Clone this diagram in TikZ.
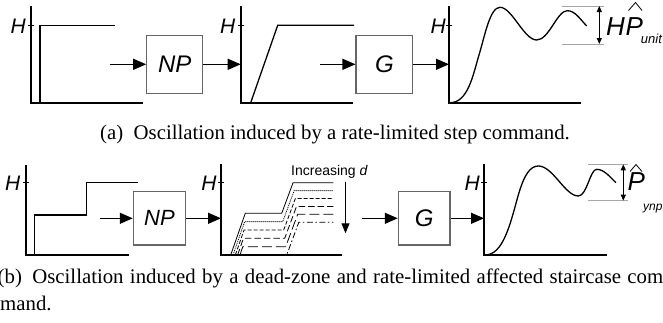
\documentclass[tikz,border=0pt]{standalone}
\usepackage{fontspec}
\setmainfont{Liberation Serif}
\newfontfamily\arial{Liberation Sans}
\usetikzlibrary{arrows.meta}
\begin{document}
\begin{tikzpicture}[x=1pt,y=-1pt,
  axis/.style={line width=1.6pt},
  sig/.style={line width=1.3pt},
  tickm/.style={line width=1pt},
  blk/.style={draw=black!60, line width=1.1pt, minimum width=56pt, minimum height=57.7pt, inner sep=0pt, font=\arial\itshape\fontsize{24}{24}\selectfont},
  conn/.style={line width=1.3pt, -{Triangle[length=13pt,width=11pt]}},
  hlab/.style={font=\arial\itshape\fontsize{21}{21}\selectfont, anchor=east, inner sep=0pt},
  biglab/.style={font=\arial\itshape\fontsize{26}{26}\selectfont, anchor=base west, inner sep=0pt},
  hatline/.style={line width=0.8pt, line join=miter},
  guide/.style={draw=black!35, line width=1pt},
  dim/.style={line width=1.1pt, {Triangle[length=6pt,width=5pt]}-{Triangle[length=6pt,width=5pt]}},
  fam/.style={line width=0.8pt},
  fam0/.style={fam},
  fam1/.style={fam, dash pattern=on 1pt off 1pt},
  fam2/.style={fam, dash pattern=on 4pt off 2pt},
  fam3/.style={fam, dash pattern=on 6.5pt off 3pt},
  fam4/.style={fam, dash pattern=on 10pt off 4pt},
  fam5/.style={fam, dash pattern=on 6pt off 2.5pt on 1.5pt off 2.5pt},
  captext/.style={font=\fontsize{20.8}{20.8}\selectfont, inner sep=0pt},
]
\useasboundingbox (0,0) rectangle (663,322);
\clip (0,0) rectangle (663,322);

% ---------- top row ----------
% plot 1
\draw[axis] (30.7,6) -- (30.7,102.7) -- (142.7,102.7);
\draw[tickm] (28,25.3) -- (33.5,25.3);
\node[hlab] (h1) at (26,25.8) {H};
\draw[sig] (40,102.7) -- (40,25.3) -- (115,25.3);
\coordinate (a1) at (110,64.3);
\node[blk] (np1) at (174.7,64.3) {NP};
\coordinate (ax2) at (240.7,64.3);
\draw[conn] (a1) -- (np1);
\draw[conn] (np1) -- (ax2);
% plot 2
\draw[axis] (240.7,6) -- (240.7,102.7) -- (352.7,102.7);
\draw[tickm] (238,25.3) -- (243.5,25.3);
\node[hlab] (h2) at (235.5,25.8) {H};
\draw[sig] (250.7,102.7) -- (277.7,25.3) -- (354,25.3);
\coordinate (a3) at (320,64.3);
\node[blk, minimum width=56.7pt] (g1) at (384.35,64.3) {G};
\coordinate (ax3) at (449,64.3);
\draw[conn] (a3) -- (g1);
\draw[conn] (g1) -- (ax3);
% plot 3
\draw[axis] (449,6) -- (449,102.7) -- (580.7,102.7);
\draw[tickm] (446.3,25.3) -- (451.8,25.3);
\node[hlab] (h3) at (446,25.8) {H};
\draw[sig] (450,102.7) .. controls (468,102.7) and (473,75) .. (479,55)
  .. controls (485,35) and (490,7.3) .. (500,7.3)
  .. controls (512,7.3) and (524,40) .. (536.7,40)
  .. controls (549,40) and (557,10.7) .. (567.3,10.7)
  .. controls (575,10.7) and (580,19) .. (586.7,26);
\draw[guide] (561.7,6) -- (604,6);
\draw[guide] (561.7,44) -- (604,44);
\coordinate (d1t) at (599.3,6);
\coordinate (d1b) at (599.3,44);
\draw[dim] (d1t) -- (d1b);
\node[biglab] (hu) at (606,35) {H};
\node[biglab] (pu) at (625.5,35) {P};
\draw[hatline] (628.5,10.5) -- (635.5,2.5) -- (642,10.5);
\node[font=\arial\itshape\fontsize{13}{13}\selectfont, anchor=base west, inner sep=0pt] (unit) at (640.7,43.3) {unit};

% caption a
\node[captext, anchor=base] (capa) at (335,139) {(a)\hspace{0.5em}Oscillation induced by a rate-limited step command.};

% ---------- bottom row ----------
% plot 4
\draw[axis] (26,165) -- (26,255) -- (129.3,255);
\draw[tickm] (23.3,182.3) -- (28.8,182.3);
\node[hlab] (h4) at (20.5,182.8) {H};
\draw[sig] (34.3,255) -- (34.3,215) -- (86.7,215) -- (86.7,182.3) -- (138.3,182.3);
\coordinate (a5) at (100,218.3);
\node[blk, minimum width=52.4pt, minimum height=53.3pt, font=\arial\itshape\fontsize{22}{22}\selectfont] (np2) at (159.5,218.3) {NP};
\coordinate (ax5) at (221,218.3);
\draw[conn] (a5) -- (np2);
\draw[conn] (np2) -- (ax5);
% plot 5
\draw[axis] (221,164.3) -- (221,255) -- (341.7,255);
\draw[tickm] (218.3,182.3) -- (223.8,182.3);
\node[hlab] (h5) at (216.7,182.8) {H};
\foreach \i in {0,...,5} {
  \pgfmathsetmacro\Lone{213.3+8.34*\i}
  \pgfmathsetmacro\Ltwo{182.7+7.9*\i}
  \pgfmathsetmacro\xs{230.7+2.3*\i}
  \pgfmathsetmacro\xa{\xs+(255-\Lone)/2.86}
  \pgfmathsetmacro\xr{281.7+1.0*\i}
  \pgfmathsetmacro\xb{\xr+(\Lone-\Ltwo)/2.7}
  \draw[fam\i] (\xs,255) -- (\xa,\Lone) -- (\xr,\Lone) -- (\xb,\Ltwo) -- (333.3,\Ltwo);
}
\node[font=\arial\fontsize{14}{14}\selectfont, anchor=base, inner sep=0pt] (incd) at (329.5,175) {Increasing \textit{d}};
\coordinate (dt) at (345.5,181.7);
\coordinate (db) at (345.5,233.3);
\draw[line width=1.1pt, -{Triangle[length=10pt,width=8pt]}] (dt) -- (db);
\coordinate (a7) at (361.7,218.3);
\node[blk, minimum width=51.7pt, minimum height=53.3pt] (g2) at (424.15,218.3) {G};
\coordinate (ax7) at (484,218.3);
\draw[conn] (a7) -- (g2);
\draw[conn] (g2) -- (ax7);
% plot 6
\draw[axis] (484,164.3) -- (484,255) -- (606.7,255);
\draw[tickm] (481.3,182.3) -- (486.8,182.3);
\node[hlab] (h6) at (480,182.8) {H};
\draw[sig] (485,255) .. controls (503,255) and (510,225) .. (518,196)
  .. controls (524,175) and (530,166) .. (538.3,166)
  .. controls (553,166) and (565,196) .. (578.3,196)
  .. controls (587,196) and (590,169.3) .. (596.7,169.3)
  .. controls (604,169.3) and (610,177) .. (616,182.7);
\draw[guide] (588.3,164.3) -- (628,164.3);
\draw[guide] (588.3,200.7) -- (628,200.7);
\coordinate (d2t) at (623.3,164.3);
\coordinate (d2b) at (623.3,200.7);
\draw[dim] (d2t) -- (d2b);
\node[biglab] (ph) at (627.5,190) {P};
\draw[hatline] (630,171.5) -- (636,164.5) -- (642,171.5);
\node[font=\arial\itshape\fontsize{12}{12}\selectfont, anchor=base west, inner sep=0pt] (ynp) at (643,210) {ynp};

% caption b
\node[captext, anchor=base west] (capb1) at (-2.5,283) {\makebox[665.5pt][s]{(b)\hspace{0.5em}Oscillation induced by a dead-zone and rate-limited affected staircase com}};
\node[captext, anchor=base west] (capb2) at (0,310) {mand.};
\end{tikzpicture}
\end{document}
